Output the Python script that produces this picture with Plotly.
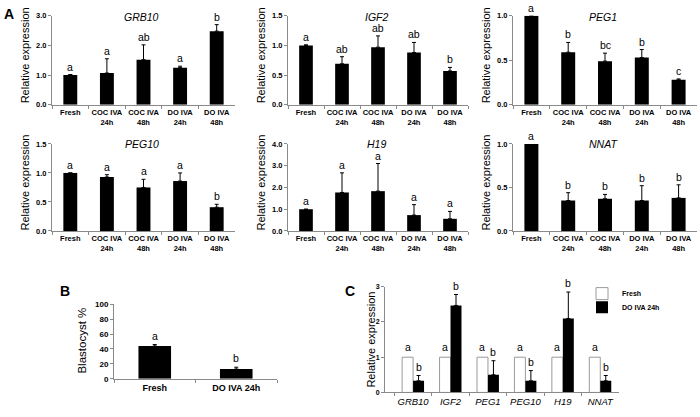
import plotly.graph_objects as go

W, H = 700, 417

# ---------------- data ----------------
groups = ["Fresh", "COC IVA<br>24h", "COC IVA<br>48h", "DO IVA<br>24h", "DO IVA<br>48h"]

grb10 = [1.00, 1.07, 1.52, 1.25, 2.48]
grb10_err = [0.02, 0.48, 0.50, 0.05, 0.22]
grb10_sig = ["a", "a", "ab", "a", "b"]

igf2 = [1.00, 0.69, 0.97, 0.88, 0.57]
igf2_err = [0.01, 0.12, 0.19, 0.17, 0.06]
igf2_sig = ["a", "ab", "ab", "ab", "b"]

peg1 = [1.00, 0.59, 0.49, 0.53, 0.28]
peg1_err = [0.0, 0.11, 0.09, 0.09, 0.01]
peg1_sig = ["a", "b", "bc", "b", "c"]

peg10 = [1.00, 0.93, 0.75, 0.86, 0.41]
peg10_err = [0.0, 0.04, 0.14, 0.14, 0.05]
peg10_sig = ["a", "a", "a", "a", "b"]

h19 = [1.00, 1.77, 1.83, 0.73, 0.56]
h19_err = [0.0, 0.90, 1.27, 0.48, 0.34]
h19_sig = ["a", "a", "a", "a", "a"]

nnat = [1.00, 0.35, 0.37, 0.35, 0.38]
nnat_err = [0.0, 0.09, 0.05, 0.17, 0.15]
nnat_sig = ["a", "b", "b", "b", "b"]

grb10_ticks = [0, 1, 2, 3]
igf2_ticks = [0, 0.5, 1.0, 1.5]
peg1_ticks = [0, 0.5, 1.0]
peg10_ticks = [0, 0.5, 1.0, 1.5]
h19_ticks = [0, 1, 2, 3, 4]
nnat_ticks = [0, 0.5, 1.0]

blast_groups = ["Fresh", "DO IVA 24h"]
blast = [44, 13]
blast_err = [2.0, 2.5]
blast_sig = ["a", "b"]
blast_ticks = [0, 20, 40, 60, 80, 100]

c_genes = ["GRB10", "IGF2", "PEG1", "PEG10", "H19", "NNAT"]
c_fresh = [1, 1, 1, 1, 1, 1]
c_do = [0.33, 2.47, 0.50, 0.33, 2.10, 0.33]
c_do_err = [0.15, 0.31, 0.40, 0.29, 0.75, 0.15]
c_fresh_sig = ["a"] * 6
c_do_sig = ["b"] * 6
c_ticks = [0, 1, 2, 3]

# ---------------- helpers ----------------
FONT = "Liberation Sans, Arial, sans-serif"
AX = "#8a8a8a"


def px(x):
    return x / W


def py(y):
    return 1 - y / H


fig = go.Figure()
layout = {}
annotations = []

panels = [
    ("GRB10", grb10, grb10_err, grb10_sig, grb10_ticks, (52, 235), (12, 103)),
    ("IGF2", igf2, igf2_err, igf2_sig, igf2_ticks, (288, 468), (12, 103)),
    ("PEG1", peg1, peg1_err, peg1_sig, peg1_ticks, (513, 697), (12, 103)),
    ("PEG10", peg10, peg10_err, peg10_sig, peg10_ticks, (52, 235), (143, 232)),
    ("H19", h19, h19_err, h19_sig, h19_ticks, (288, 468), (143, 232)),
    ("NNAT", nnat, nnat_err, nnat_sig, nnat_ticks, (513, 697), (143, 232)),
]


def axes_style(i, xd, yd, yticks, ymax, tickfmt, xtickfont, ytickfont, xrange):
    xn = "xaxis" if i == 1 else f"xaxis{i}"
    yn = "yaxis" if i == 1 else f"yaxis{i}"
    layout[xn] = dict(
        domain=[px(xd[0]), px(xd[1])], anchor=f"y{i}" if i > 1 else "y",
        type="category", range=xrange, showline=True, linecolor=AX, linewidth=1,
        ticks="outside", tickson="boundaries", ticklen=3, tickcolor=AX,
        showgrid=False, zeroline=False, tickfont=xtickfont, tickangle=0,
        fixedrange=True,
    )
    layout[yn] = dict(
        domain=[py(yd[1]), py(yd[0])], anchor=f"x{i}" if i > 1 else "x",
        range=[0, ymax], tickvals=yticks, tickformat=tickfmt,
        showline=True, linecolor=AX, linewidth=1, ticks="outside", ticklen=3,
        tickcolor=AX, showgrid=False, zeroline=False, tickfont=ytickfont,
        fixedrange=True,
    )


def paper_text(x, y, text, size, angle=0):
    annotations.append(dict(
        x=px(x), y=py(y), xref="paper", yref="paper", text=text,
        textangle=angle, showarrow=False, xanchor="center", yanchor="middle",
        font=dict(family=FONT, size=size, color="black")))


def sig_text(x, y, xa, ya, text, shift=0, yshift=1):
    annotations.append(dict(
        x=x, y=y, xref=xa, yref=ya, text=text, showarrow=False,
        xanchor="center", yanchor="bottom", yshift=yshift, xshift=shift,
        font=dict(family=FONT, size=10.5, color="black")))


small_bold = dict(family=FONT, size=7.5, color="black", weight="bold")

for k, (gene, vals, errs, sigs, ticks, xd, yd) in enumerate(panels):
    i = k + 1
    xa = "x" if i == 1 else f"x{i}"
    ya = "y" if i == 1 else f"y{i}"
    fig.add_trace(go.Bar(
        x=groups, y=vals, xaxis=xa, yaxis=ya, width=0.38,
        marker=dict(color="black", line=dict(width=0)),
        error_y=dict(type="data", array=errs, symmetric=False,
                     arrayminus=[0] * len(errs), color="black",
                     thickness=1, width=2),
        showlegend=False, hoverinfo="skip",
    ))
    axes_style(i, xd, yd, ticks, ticks[-1], ".1f", small_bold, small_bold,
               [-0.5, 4.5])
    for g, v, e, s in zip(groups, vals, errs, sigs):
        sig_text(g, v + e, xa, ya, s, yshift=0)
    paper_text((xd[0] + xd[1]) / 2 - 2, yd[0] + (1 if k < 3 else 0),
               f"<i>{gene}</i>", 10.5)
    paper_text(xd[0] - 27, (yd[0] + yd[1]) / 2 - 5, "Relative expression", 11, -90)

# ---------------- panel B ----------------
fig.add_trace(go.Bar(
    x=blast_groups, y=blast, xaxis="x7", yaxis="y7", width=0.4,
    marker=dict(color="black", line=dict(width=0)),
    error_y=dict(type="data", array=blast_err, symmetric=False,
                 arrayminus=[0, 0], color="black", thickness=1, width=2),
    showlegend=False, hoverinfo="skip",
))
axes_style(7, (114, 277), (307, 383), blast_ticks, 100, "d",
           dict(family=FONT, size=9, color="black", weight="bold"),
           dict(family=FONT, size=8, color="black", weight="bold"),
           [-0.5, 1.5])
for g, v, e, s in zip(blast_groups, blast, blast_err, blast_sig):
    sig_text(g, v + e, "x7", "y7", s)
paper_text(82, 344, "Blastocyst %", 11.5, -90)

# ---------------- panel C ----------------
bw = 0.293
fig.add_trace(go.Bar(
    x=c_genes, y=c_fresh, xaxis="x8", yaxis="y8", width=bw, offset=-bw,
    name="Fresh", legend="legend",
    marker=dict(color="white", line=dict(color="#9a9a9a", width=1)),
    hoverinfo="skip",
))
fig.add_trace(go.Bar(
    x=c_genes, y=c_do, xaxis="x8", yaxis="y8", width=bw, offset=0,
    name="DO IVA 24h", legend="legend2",
    marker=dict(color="black", line=dict(width=0)),
    error_y=dict(type="data", array=c_do_err, symmetric=False,
                 arrayminus=[0] * 6, color="black", thickness=1, width=2),
    hoverinfo="skip",
))
axes_style(8, (385, 619), (289, 397), c_ticks, 3, "d",
           dict(family=FONT, size=9.5, color="black", style="italic"),
           dict(family=FONT, size=7, color="black", weight="bold"),
           [-0.75, 5.5])
for g, s in zip(c_genes, c_fresh_sig):
    sig_text(g, 1, "x8", "y8", s, shift=-5.5, yshift=2)
for g, v, e, s in zip(c_genes, c_do, c_do_err, c_do_sig):
    sig_text(g, v + e, "x8", "y8", s, shift=5.5)
paper_text(371, 343, "Relative expression", 11, -90)

# panel letters
for t, x, y in [("A", 9, 10), ("B", 65, 293), ("C", 350, 293)]:
    paper_text(x, y, f"<b>{t}</b>", 14)

leg_font = dict(family=FONT, size=7, color="black", weight="bold")
fig.update_layout(
    width=W, height=H, margin=dict(l=0, r=0, t=0, b=0),
    paper_bgcolor="white", plot_bgcolor="white", barmode="overlay",
    annotations=annotations,
    legend=dict(x=px(582), y=py(296), xanchor="left", yanchor="middle",
                font=leg_font, bgcolor="rgba(0,0,0,0)", itemwidth=30),
    legend2=dict(x=px(582), y=py(310), xanchor="left", yanchor="middle",
                 font=leg_font, bgcolor="rgba(0,0,0,0)", itemwidth=30),
    **layout,
)

fig.write_html("out.html", config={"displayModeBar": False},
               post_script="document.body.style.margin='0px';")
